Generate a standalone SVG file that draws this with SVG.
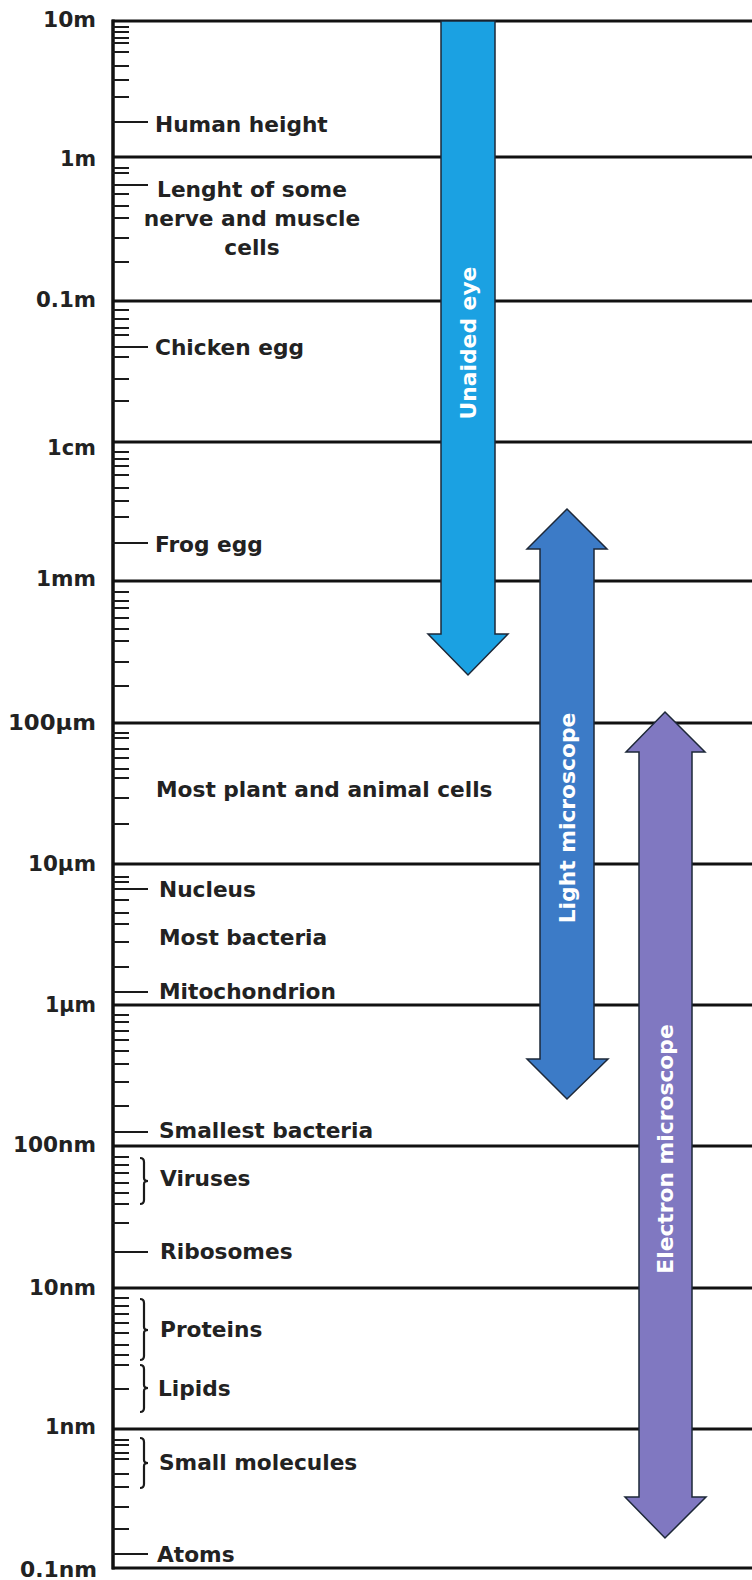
<svg xmlns="http://www.w3.org/2000/svg" width="752" height="1580" viewBox="0 0 752 1580">
<style>
.t{font-family:"DejaVu Sans","Verdana",sans-serif;font-weight:bold;font-size:21.7px;fill:#222222}
.ax{text-anchor:end;font-size:21px}
.grid line{stroke:#111;stroke-width:3}
.tk{stroke:#1a1a1a;stroke-width:2}
.br{fill:none;stroke:#1a1a1a;stroke-width:2.2}
.arr{stroke:#1d2838;stroke-width:1.5;stroke-linejoin:miter}
.at{font-family:"DejaVu Sans","Verdana",sans-serif;font-weight:bold;font-size:21.8px;fill:#ffffff;text-anchor:middle}
</style>
<rect width="752" height="1580" fill="#ffffff"/>
<g id="grid" class="grid">
<line x1="112" y1="21" x2="752" y2="21"/>
<line x1="112" y1="157" x2="752" y2="157"/>
<line x1="112" y1="301" x2="752" y2="301"/>
<line x1="112" y1="442" x2="752" y2="442"/>
<line x1="112" y1="581" x2="752" y2="581"/>
<line x1="112" y1="723" x2="752" y2="723"/>
<line x1="112" y1="864" x2="752" y2="864"/>
<line x1="112" y1="1005" x2="752" y2="1005"/>
<line x1="112" y1="1146" x2="752" y2="1146"/>
<line x1="112" y1="1288" x2="752" y2="1288"/>
<line x1="112" y1="1429" x2="752" y2="1429"/>
<line x1="112" y1="1568" x2="752" y2="1568"/>
<line x1="113" y1="19.5" x2="113" y2="1569.5" style="stroke-width:3.5"/>
</g>
<g id="ticks" class="tk">
<path d="M112 27h17M112 32h17M112 38h17M112 43h17M112 52h17M112 66h17M112 80h17M112 97h17M112 122h36
M112 168h17M112 173h17M112 185h36M112 194h17M112 206h17M112 218h17M112 238h17M112 262h17
M112 310h17M112 319h17M112 328h17M112 335h17M112 347h36M112 357h17M112 379h17M112 401h17
M112 452h17M112 459h17M112 466h17M112 475h17M112 488h17M112 501h17M112 517h17M112 543h36
M112 592h17M112 601h17M112 608h17M112 618h17M112 629h17M112 641h17M112 662h17M112 686h17
M112 733h17M112 738h17M112 749h17M112 758h17M112 769h17M112 778h17M112 798h17M112 824h17
M112 877h17M112 882h17M112 889h36M112 900h17M112 913h17M112 924h17M112 942h17M112 967h17M112 992h36
M112 1015h17M112 1022h17M112 1031h17M112 1040h17M112 1051h17M112 1064h17M112 1082h17M112 1106h17M112 1132h36
M112 1157h17M112 1165h17M112 1173h17M112 1183h17M112 1193h17M112 1204h17M112 1223h17M112 1252h36
M112 1298h17M112 1306h17M112 1314h17M112 1323h17M112 1333h17M112 1345h17M112 1355h17M112 1365h17M112 1389h17
M112 1440h17M112 1445h17M112 1453h17M112 1459h17M112 1474h17M112 1487h17M112 1507h17M112 1529h17M112 1554h36"/>
</g>
<g id="axis-labels" class="t ax">
<text x="96" y="27" textLength="53" lengthAdjust="spacingAndGlyphs">10m</text>
<text x="96" y="166" textLength="36" lengthAdjust="spacingAndGlyphs">1m</text>
<text x="96" y="307" textLength="60" lengthAdjust="spacingAndGlyphs">0.1m</text>
<text x="96" y="455" textLength="49" lengthAdjust="spacingAndGlyphs">1cm</text>
<text x="96" y="586" textLength="60" lengthAdjust="spacingAndGlyphs">1mm</text>
<text x="96" y="730" textLength="88" lengthAdjust="spacingAndGlyphs">100µm</text>
<text x="96" y="871" textLength="68" lengthAdjust="spacingAndGlyphs">10µm</text>
<text x="96" y="1012" textLength="51" lengthAdjust="spacingAndGlyphs">1µm</text>
<text x="96" y="1152" textLength="83" lengthAdjust="spacingAndGlyphs">100nm</text>
<text x="96" y="1295" textLength="67" lengthAdjust="spacingAndGlyphs">10nm</text>
<text x="96" y="1434" textLength="51" lengthAdjust="spacingAndGlyphs">1nm</text>
<text x="97" y="1577" textLength="77" lengthAdjust="spacingAndGlyphs">0.1nm</text>
</g>
<g id="braces" class="br">
<path d="M140 1158q4 0 4 4V1178q0 3 4 3q-4 0 -4 3V1200q0 4 -4 4"/>
<path d="M140 1299q4 0 4 4V1327q0 3 4 3q-4 0 -4 3V1356q0 4 -4 4"/>
<path d="M140 1365q4 0 4 4V1385q0 3 4 3q-4 0 -4 3V1408q0 4 -4 4"/>
<path d="M140 1438q4 0 4 4V1460q0 3 4 3q-4 0 -4 3V1484q0 4 -4 4"/>
</g>
<g id="item-labels" class="t">
<g id="human-height"><text x="155" y="132">Human height</text></g>
<g id="nerve-muscle"><text x="252" y="197" text-anchor="middle">Lenght of some</text><text x="252" y="226" text-anchor="middle">nerve and muscle</text><text x="252" y="255" text-anchor="middle">cells</text></g>
<g id="chicken-egg"><text x="155" y="355">Chicken egg</text></g>
<g id="frog-egg"><text x="155" y="552">Frog egg</text></g>
<g id="cells"><text x="156" y="797">Most plant and animal cells</text></g>
<g id="nucleus"><text x="159" y="897">Nucleus</text></g>
<g id="bacteria"><text x="159" y="945">Most bacteria</text></g>
<g id="mitochondrion"><text x="159" y="999">Mitochondrion</text></g>
<g id="smallest-bacteria"><text x="159" y="1138">Smallest bacteria</text></g>
<g id="viruses"><text x="160" y="1186">Viruses</text></g>
<g id="ribosomes"><text x="160" y="1259">Ribosomes</text></g>
<g id="proteins"><text x="160" y="1337">Proteins</text></g>
<g id="lipids"><text x="158" y="1396">Lipids</text></g>
<g id="small-molecules"><text x="159" y="1470">Small molecules</text></g>
<g id="atoms"><text x="157" y="1562">Atoms</text></g>
</g>
<g id="arrows">
<g id="unaided-eye">
<polygon class="arr" fill="#1ba1e2" points="441,21 495,21 495,634 508,634 468,675 428,634 441,634"/>
<text class="at" transform="translate(468,343) rotate(-90)" y="7.5">Unaided eye</text>
</g>
<g id="light-microscope">
<polygon class="arr" fill="#3c7bc7" points="567,509 607,549 594,549 594,1059 608,1059 567,1099 527,1059 540,1059 540,549 527,549"/>
<text class="at" transform="translate(567,818) rotate(-90)" y="7.5">Light microscope</text>
</g>
<g id="electron-microscope">
<polygon class="arr" fill="#8078c1" points="665,712 705,752 692,752 692,1497 706,1497 665,1538 625,1497 639,1497 639,752 626,752"/>
<text class="at" transform="translate(665,1149) rotate(-90)" y="7.5">Electron microscope</text>
</g>
</g>
</svg>
